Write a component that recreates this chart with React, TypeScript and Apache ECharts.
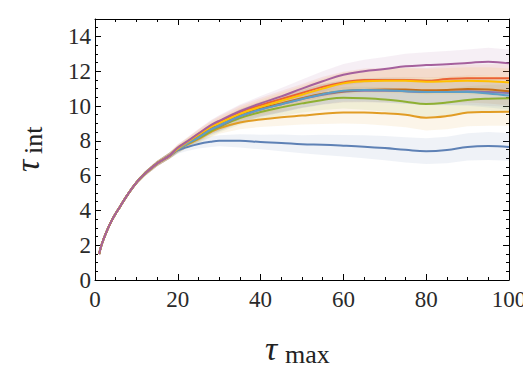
import React, { useEffect, useRef } from "react";
import * as echarts from "echarts";

// τmax sample points
const earlyX = [1, 1.5, 2, 3, 4, 5, 6, 8, 10, 12, 15, 18];
const lateX = [20, 22, 25, 28, 30, 35, 40, 45, 50, 55, 60, 65, 70, 75, 80, 85, 90, 95, 100];

// shared initial rise (all curves coincide)
const earlyValues = [1.5, 1.95, 2.3, 2.9, 3.4, 3.82, 4.2, 4.95, 5.6, 6.1, 6.7, 7.15];

// per-series values from τmax = 20 on
const blueVals = [7.45, 7.62, 7.82, 7.95, 8.0, 8.0, 7.93, 7.88, 7.8, 7.77, 7.72, 7.66, 7.58, 7.48, 7.4, 7.47, 7.65, 7.7, 7.65];
const orangeVals = [7.5, 7.75, 8.1, 8.5, 8.72, 9.05, 9.22, 9.35, 9.45, 9.55, 9.62, 9.62, 9.58, 9.5, 9.33, 9.42, 9.62, 9.66, 9.67];
const greenVals = [7.5, 7.78, 8.15, 8.55, 8.8, 9.3, 9.65, 9.92, 10.15, 10.35, 10.48, 10.45, 10.38, 10.25, 10.12, 10.2, 10.35, 10.42, 10.45];
const redVals = [7.6, 7.9, 8.4, 8.85, 9.1, 9.65, 10.05, 10.4, 10.75, 11.1, 11.35, 11.5, 11.5, 11.5, 11.45, 11.55, 11.6, 11.6, 11.6];
const violetVals = [7.5, 7.8, 8.2, 8.65, 8.85, 9.4, 9.8, 10.1, 10.4, 10.65, 10.82, 10.88, 10.88, 10.85, 10.8, 10.82, 10.85, 10.8, 10.75];
const brownVals = [7.52, 7.82, 8.25, 8.7, 8.9, 9.45, 9.85, 10.15, 10.45, 10.7, 10.85, 10.92, 10.95, 10.95, 10.9, 10.92, 10.98, 10.95, 10.85];
const tealVals = [7.5, 7.8, 8.2, 8.65, 8.88, 9.42, 9.8, 10.1, 10.4, 10.68, 10.88, 10.92, 10.9, 10.85, 10.8, 10.8, 10.8, 10.72, 10.6];
const yellowVals = [7.55, 7.88, 8.35, 8.8, 9.02, 9.55, 9.95, 10.3, 10.65, 11.0, 11.3, 11.42, 11.45, 11.45, 11.4, 11.42, 11.45, 11.42, 11.35];
const purpleVals = [7.6, 7.92, 8.42, 8.9, 9.15, 9.7, 10.15, 10.55, 11.0, 11.42, 11.8, 12.0, 12.12, 12.28, 12.35, 12.4, 12.47, 12.55, 12.45];

// half-width of the shaded uncertainty bands
const earlyBand = [0.05, 0.05, 0.05, 0.06, 0.07, 0.08, 0.09, 0.1, 0.12, 0.14, 0.16, 0.18];
const lateBand = [0.2, 0.22, 0.26, 0.3, 0.32, 0.38, 0.42, 0.48, 0.52, 0.58, 0.62, 0.66, 0.7, 0.72, 0.74, 0.76, 0.78, 0.8, 0.8];

const seriesNames = ["s1", "s2", "s3", "s4", "s5", "s6", "s7", "s8", "s9"];
const seriesLate = [blueVals, orangeVals, greenVals, redVals, violetVals, brownVals, tealVals, yellowVals, purpleVals];
const seriesColors = ["#5E81B5", "#E19C24", "#8FB032", "#EB6235", "#8778B3", "#C56E1A", "#5D9EC7", "#FFBF00", "#A5609D"];

const xTicks = [0, 20, 40, 60, 80, 100];
const yTicks = [0, 2, 4, 6, 8, 10, 12, 14];

const FONT = "Liberation Serif";

export default function App() {
  const ref = useRef<HTMLDivElement>(null);
  useEffect(() => {
    if (!ref.current) return;
    const chart = echarts.init(ref.current, undefined, { renderer: "svg" });
    const xs = [...earlyX, ...lateX];
    const band = [...earlyBand, ...lateBand];

    const series: any[] = [];
    seriesNames.forEach((name, i) => {
      const vals = [...earlyValues, ...seriesLate[i]];
      const color = seriesColors[i];
      const rows = xs.map((x, k) => [x, vals[k] - band[k], vals[k] + band[k]]);
      series.push({
        name: name + "_band",
        type: "custom",
        silent: true,
        clip: true,
        z: 1,
        encode: { x: 0, y: [1, 2] },
        data: rows,
        renderItem: (params: any, api: any) => {
          if (params.dataIndex !== 0) return null;
          const upper = rows.map((r) => api.coord([r[0], r[2]]));
          const lower = rows.map((r) => api.coord([r[0], r[1]])).reverse();
          return {
            type: "polygon",
            shape: { points: [...upper, ...lower] },
            style: { fill: color, opacity: 0.1 },
          };
        },
      });
    });
    seriesNames.forEach((name, i) => {
      const vals = [...earlyValues, ...seriesLate[i]];
      series.push({
        name,
        type: "line",
        smooth: 0.4,
        symbol: "none",
        lineStyle: { color: seriesColors[i], width: 2 },
        data: xs.map((x, k) => [x, vals[k]]),
        z: 3,
      });
    });

    const axisCommon = {
      axisLine: { show: true, onZero: false, lineStyle: { color: "#000", width: 1 } },
      axisTick: { show: true, inside: true, length: 6, lineStyle: { color: "#000" } },
      minorTick: { show: true, splitNumber: 4, length: 3, lineStyle: { color: "#000" } },
      splitLine: { show: false },
    };

    chart.setOption({
      animation: false,
      grid: { left: 87, right: 30, top: 11, bottom: 96 },
      xAxis: [
        {
          type: "value",
          min: xTicks[0],
          max: xTicks[xTicks.length - 1],
          interval: 20,
          position: "bottom",
          ...axisCommon,
          axisLabel: { fontFamily: FONT, fontSize: 23, color: "#2a2a2a", margin: 8 },
        },
        {
          type: "value",
          min: xTicks[0],
          max: xTicks[xTicks.length - 1],
          interval: 20,
          position: "top",
          ...axisCommon,
          axisLabel: { show: false },
        },
      ],
      yAxis: [
        {
          type: "value",
          min: 0,
          max: 15,
          interval: 2,
          position: "left",
          ...axisCommon,
          axisLabel: {
            fontFamily: FONT,
            fontSize: 23,
            color: "#2a2a2a",
            margin: 4,
            formatter: (v: number) => (yTicks.includes(v) ? String(v) : ""),
          },
        },
        {
          type: "value",
          min: 0,
          max: 15,
          interval: 2,
          position: "right",
          ...axisCommon,
          axisLabel: { show: false },
        },
      ],
      series,
      graphic: [
        {
          type: "text",
          x: 257,
          y: 357,
          style: { text: "τ", font: `italic 34px "${FONT}"`, fill: "#222", textAlign: "left", textVerticalAlign: "bottom" },
        },
        {
          type: "text",
          x: 277,
          y: 359,
          style: { text: "max", font: `26px "${FONT}"`, fill: "#222", textAlign: "left", textVerticalAlign: "bottom" },
        },
        {
          type: "text",
          x: 19,
          y: 164,
          rotation: Math.PI / 2,
          style: {
            text: "τ",
            font: `italic 34px "${FONT}"`,
            lineHeight: 20,
            fill: "#222",
            textAlign: "left",
            textVerticalAlign: "middle",
          },
        },
        {
          type: "text",
          x: 25,
          y: 146,
          rotation: Math.PI / 2,
          style: {
            text: "int",
            font: `26px "${FONT}"`,
            lineHeight: 20,
            fill: "#222",
            textAlign: "left",
            textVerticalAlign: "middle",
          },
        },
      ],
    });
    return () => chart.dispose();
  }, []);
  return <div ref={ref} style={{ width: 531, height: 368 }} />;
}
